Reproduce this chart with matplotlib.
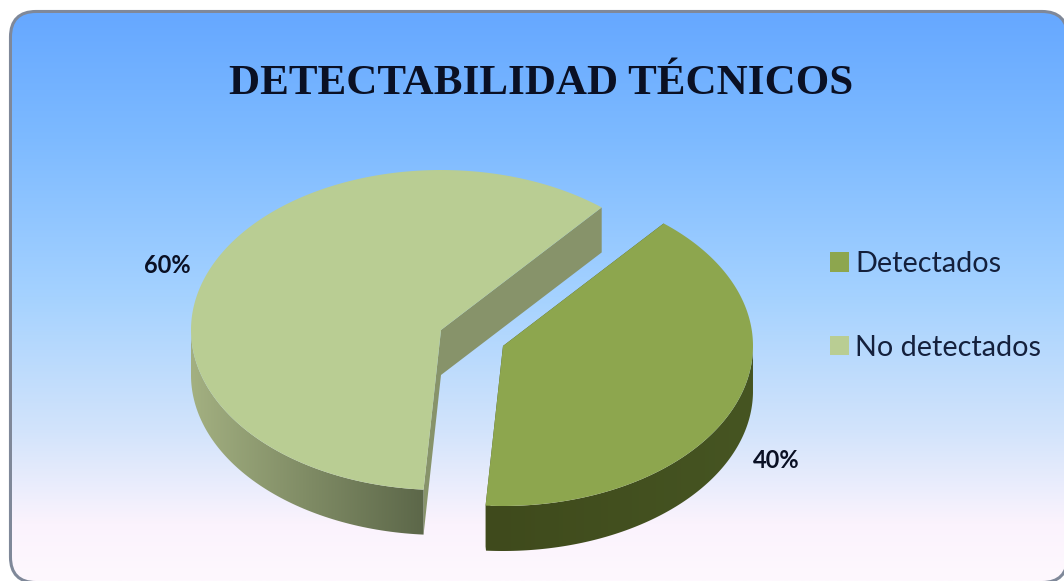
import numpy as np
import matplotlib
matplotlib.use("Agg")
import matplotlib.pyplot as plt
from matplotlib.colors import LinearSegmentedColormap
from matplotlib.patches import FancyBboxPatch, Patch, Polygon

labels = ["Detectados", "No detectados"]
values = [40, 60]
pct_labels = ["40%", "60%"]

top_colors = ["#8da64e", "#b9cd93"]
cut_colors = ["#46531f", "#87936a"]
side_left = ["#3f4a1c", "#a3b081"]
side_right = ["#465522", "#5c6749"]
text_color = "#0a1024"

# pie geometry in image pixels
centers = [(503, 346), (441, 330)]
rx, ry = 250, 160
depth = 45
start_angle = 50  # No detectados starts here, going counterclockwise

fig = plt.figure(figsize=(10.64, 5.81), dpi=100, facecolor="white")
ax = fig.add_axes([0, 0, 1, 1])
ax.axis("off")

# panel background, the gradient hides the inner half of the border line
stops = [(0.0, "#66a8ff"), (0.22, "#7dbaff"), (0.5, "#a5d2ff"),
         (0.74, "#d3e4fb"), (0.9, "#fbf3fd"), (1.0, "#fef8fe")]
cmap = LinearSegmentedColormap.from_list("panel", stops)
panel = FancyBboxPatch((12, 13), 1054, 568, boxstyle="round,pad=0,rounding_size=24",
                       facecolor="white", edgecolor="#7f8899", linewidth=4.4, zorder=1)
ax.add_patch(panel)
grad = np.linspace(0, 1, 256).reshape(-1, 1)
img = ax.imshow(grad, cmap=cmap, extent=(12, 1066, 581, 13), aspect="auto", zorder=2)
img.set_clip_path(panel)


def ellipse_pts(center, angles):
    a = np.radians(angles)
    return np.column_stack([center[0] + rx * np.cos(a), center[1] - ry * np.sin(a)])


def draw_slice(center, th1, th2, i):
    arc = np.linspace(th1, th2, 200)
    top = ellipse_pts(center, arc)
    down = np.array([0, depth])
    c = np.array(center, dtype=float)

    # flat cut faces
    for th in (th1, th2):
        edge = ellipse_pts(center, [th])[0]
        ax.add_patch(Polygon([c, edge, edge + down, c + down], closed=True,
                             facecolor=cut_colors[i], edgecolor="none", zorder=4))

    # outer wall, a horizontal gradient clipped to the front of the arc
    front = arc[(arc % 360 >= 180)]
    p = ellipse_pts(center, front)
    wall = Polygon(np.vstack([p, (p + down)[::-1]]), closed=True, facecolor="none",
                   edgecolor="none", zorder=5)
    ax.add_patch(wall)
    wall_cmap = LinearSegmentedColormap.from_list("wall", [side_left[i], side_right[i]])
    x0, x1 = p[:, 0].min(), p[:, 0].max()
    y0, y1 = p[:, 1].min(), p[:, 1].max() + depth
    shade = ax.imshow(np.linspace(0, 1, 256).reshape(1, -1), cmap=wall_cmap,
                      extent=(x0, x1, y1, y0), aspect="auto", zorder=5)
    shade.set_clip_path(wall)

    ax.add_patch(Polygon(np.vstack([c, top]), closed=True, facecolor=top_colors[i],
                         edgecolor="none", zorder=6))


total = sum(values)
span_nd = 360 * values[1] / total
span_d = 360 * values[0] / total
draw_slice(centers[1], start_angle, start_angle + span_nd, 1)
draw_slice(centers[0], start_angle + span_nd, start_angle + span_nd + span_d, 0)

ax.set_xlim(0, 1064)
ax.set_ylim(581, 0)

ax.text(541, 84, "DETECTABILIDAD TÉCNICOS", family="Liberation Serif", weight="bold",
        fontsize=31, color=text_color, ha="center", va="center", zorder=7)
ax.text(776, 461, pct_labels[0], family="Lato", weight="bold", fontsize=17,
        color=text_color, ha="center", va="center", zorder=7)
ax.text(167.5, 265.5, pct_labels[1], family="Lato", weight="bold", fontsize=17,
        color=text_color, ha="center", va="center", zorder=7)

handles = [Patch(facecolor=c, edgecolor="none") for c in top_colors]
leg = ax.legend(handles, labels, loc="upper left", bbox_to_anchor=(830, 251),
                bbox_transform=ax.transData, frameon=False,
                prop={"family": "Lato", "size": 20.7}, labelcolor="#14203c",
                handlelength=0.66, handleheight=0.66, handletextpad=0.22,
                labelspacing=2.0, borderpad=0, borderaxespad=0)
leg.set_zorder(7)

fig.savefig("out.png", dpi=100, facecolor="white")
